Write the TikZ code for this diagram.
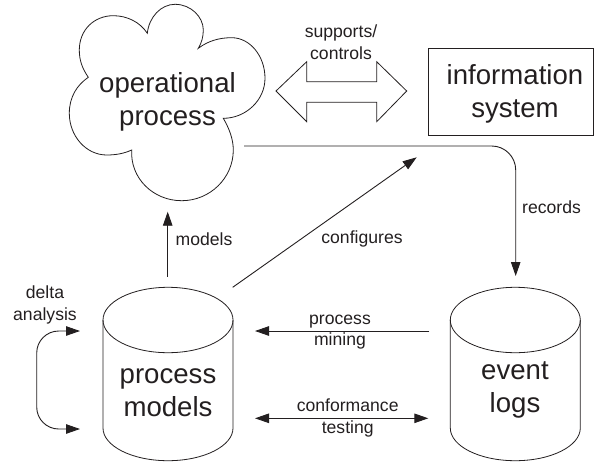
\documentclass[tikz,border=0pt]{standalone}
\usepackage{fontspec}
\setmainfont{Liberation Sans}
\usetikzlibrary{arrows.meta}
\definecolor{ink}{RGB}{35,31,32}
\tikzset{
  x=1pt,y=-1pt,
  outline/.style={draw=ink,line width=0.8pt,line join=miter},
  conn/.style={draw=ink,line width=0.9pt,-{Triangle[length=14pt,width=9.5pt]}},
  biconn/.style={draw=ink,line width=0.9pt,{Triangle[length=14pt,width=9.5pt]}-{Triangle[length=14pt,width=9.5pt]}},
  bigtext/.style={text=ink,align=center,inner sep=0pt,font=\fontsize{27.6}{32.6}\selectfont},
  smalltext/.style={text=ink,align=center,inner sep=0pt,font=\fontsize{17.6}{21.8}\selectfont},
  dbcyl/.pic={
    \draw[outline] (0,0) ellipse[x radius=65,y radius=32.7];
    \draw[outline] (-65,0) -- (-65,108)
      .. controls (-65,126) and (-36,140.7) .. (0,140.7)
      .. controls (36,140.7) and (65,126) .. (65,108) -- (65,0);
  }
}
\begin{document}
\begin{tikzpicture}
\useasboundingbox (0,0) rectangle (594,461);
% cloud
\draw[outline] (88.3,77.3)
 .. controls (82,68) and (79.3,60) .. (79.3,50)
 .. controls (79.3,30) and (94,15.7) .. (113.3,15.7)
 .. controls (127,15.7) and (140,22) .. (147.3,33.3)
 .. controls (149,17) and (161,4.3) .. (175,4.3)
 .. controls (191,4.3) and (203.3,17) .. (203.3,30)
 .. controls (203.3,37) and (201.5,43) .. (198.3,48.3)
 .. controls (208,41) and (219,37.7) .. (231.7,37.7)
 .. controls (250,37.7) and (265,56) .. (265,78.3)
 .. controls (265,100) and (246,118.3) .. (223.3,118.3)
 .. controls (229,128) and (233.3,139) .. (233.3,150)
 .. controls (233.3,178) and (210,200.7) .. (181.7,200.7)
 .. controls (153,200.7) and (130,178) .. (131.7,150)
 .. controls (124,153.5) and (116,155) .. (106.7,155)
 .. controls (86,155) and (69.3,136) .. (69.3,113.3)
 .. controls (69.3,97) and (77,85) .. (88.3,77.3) -- cycle;
\node[bigtext] (op) at (167.5,102) {operational\\process};
% double arrow
\draw[outline] (276,91) -- (306.7,61.7) -- (306.7,81.7) -- (376.7,81.7) -- (376.7,61.7)
  -- (406.7,91) -- (376.7,121.7) -- (376.7,102.3) -- (306.7,102.3) -- (306.7,121.7) -- cycle;
\node[smalltext] (sc) at (341,42.5) {supports/\\controls};
% information system
\node[outline,minimum width=165pt,minimum height=86.7pt,inner sep=0pt] (is) at (510.8,91.7) {};
\node[bigtext] (ist) at (515,94) {information\\system};
% cylinders
\pic at (168,320) {dbcyl};
\pic at (515.3,320) {dbcyl};
\node[bigtext] (pm) at (168,393) {process\\models};
\node[bigtext] (el) at (515,390) {event\\logs};
% free ends
\coordinate (a1) at (244,146);
\coordinate (a2) at (515.7,276);
\coordinate (m1) at (167.7,276.7);
\coordinate (m2) at (167.7,211.7);
\coordinate (c1) at (232.7,287.3);
\coordinate (c2) at (416.7,157.3);
\coordinate (p1) at (429.3,331);
\coordinate (p2) at (255,331);
\coordinate (t1) at (255,418.3);
\coordinate (t2) at (428.3,418.3);
\coordinate (d1) at (80,331);
\coordinate (d2) at (80,429);
\draw[conn,rounded corners=24pt] (a1) -| (a2);
\draw[conn] (m1) -- (m2);
\draw[conn] (c1) -- (c2);
\draw[conn] (p1) -- (p2);
\draw[biconn] (t1) -- (t2);
\draw[biconn,rounded corners=22pt] (d1) -- (36.7,331) -- (36.7,429) -- (d2);
% labels
\node[smalltext] (rec) at (551.5,207) {records};
\node[smalltext] (mod) at (204,239.5) {models};
\node[smalltext] (cfg) at (362,239) {configures};
\node[smalltext] (pmi) at (340,332) {process\\mining};
\node[smalltext] (ct) at (347.7,418) {conformance\\testing};
\node[smalltext] (da) at (45,305) {delta\\analysis};
\end{tikzpicture}
\end{document}
